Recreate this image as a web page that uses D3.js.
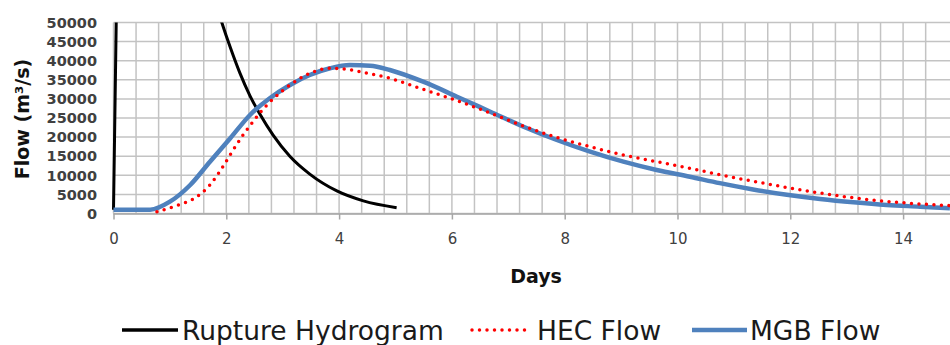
<!DOCTYPE html>
<html>
<head>
<meta charset="utf-8">
<script src="https://cdn.jsdelivr.net/npm/d3@7"></script>
<style>
  body { margin: 0; background: #fff; }
  svg { display: block; font-family: "DejaVu Sans", sans-serif; }
</style>
</head>
<body>
<svg id="chart"></svg>
<script>
// values (days, m3/s)
const ruptureDays = [0, 0.05, 0.1, 0.5, 1.0, 1.5, 1.92, 2.07, 2.24, 2.42, 2.6, 2.83, 3.13, 3.48, 3.96, 4.43, 5.02];
const ruptureFlow = [1000, 52000, 120000, 150000, 110000, 72000, 50000, 43500, 36800, 30800, 25900, 20500, 14900, 10300, 5900, 3300, 1520];

const hecDays = [0.77, 1.12, 1.48, 1.71, 1.95, 2.12, 2.3, 2.42, 2.6, 2.83, 3.13, 3.48, 3.84, 4.13, 4.43, 4.9, 5.49, 6.09, 6.68, 7.27, 7.86, 8.45, 9.04, 9.63, 10.22, 10.75, 11.34, 11.94, 12.53, 13.12, 13.71, 14.3, 14.83];
const hecFlow = [470, 2040, 4400, 7460, 12500, 16600, 20600, 23000, 26400, 30000, 33640, 36700, 38010, 37750, 36960, 35400, 32510, 29530, 26300, 22900, 19900, 17490, 15320, 13560, 11830, 10150, 8450, 6800, 5350, 4100, 3150, 2500, 2050];

const mgbDays = [0, 0.65, 1.0, 1.36, 1.71, 2.07, 2.42, 2.77, 3.13, 3.48, 3.84, 4.19, 4.55, 4.9, 5.49, 6.09, 6.68, 7.27, 7.86, 8.45, 9.04, 9.63, 10.22, 10.75, 11.34, 11.94, 12.53, 13.12, 13.71, 14.3, 14.83];
const mgbFlow = [1000, 1000, 3090, 7460, 13560, 19690, 25790, 30160, 33640, 36260, 38010, 38880, 38700, 37570, 34500, 30580, 26650, 22720, 19240, 16180, 13560, 11390, 9630, 7950, 6300, 4900, 3800, 2930, 2230, 1780, 1360];

const xTicks = [0, 2, 4, 6, 8, 10, 12, 14];
const yTicks = [0, 5000, 10000, 15000, 20000, 25000, 30000, 35000, 40000, 45000, 50000];
const seriesNames = ["Rupture Hydrogram", "HEC Flow", "MGB Flow"];

const width = 950, height = 345;
const plotLeft = 113.5, plotTop = 22.5, plotBottom = 213.5;

const svg = d3.select('#chart')
    .attr('width', width)
    .attr('height', height);

const x = d3.scaleLinear().domain([0, 15]).range([plotLeft, plotLeft + 56.4 * 15]);
const y = d3.scaleLinear().domain([0, 50000]).range([plotBottom, plotTop]);

// grid
const grid = svg.append('g').attr('stroke', '#c3c3c3').attr('stroke-width', 1.5);
grid.selectAll('.h').data(yTicks).join('line')
    .attr('x1', plotLeft).attr('x2', width)
    .attr('y1', d => y(d)).attr('y2', d => y(d));
grid.selectAll('.v').data(d3.range(0, 37).map(i => i * 0.4)).join('line')
    .attr('x1', d => x(d)).attr('x2', d => x(d))
    .attr('y1', plotTop).attr('y2', plotBottom);

// x axis
const xAxis = d3.axisBottom(x).tickValues(xTicks).tickSize(6).tickPadding(14).tickFormat(d3.format('d'));
const gx = svg.append('g')
    .attr('transform', `translate(0, ${plotBottom})`)
    .call(xAxis);
gx.select('.domain').attr('stroke', '#a6a6a6').attr('stroke-width', 1.5).attr('d', `M${plotLeft},0.5H${width}`);
gx.selectAll('.tick line').attr('stroke', '#a6a6a6').attr('stroke-width', 1.5);
gx.selectAll('.tick text')
    .attr('fill', '#404040')
    .style('font-size', '15px')
    .style('font-family', '"DejaVu Sans", sans-serif');

// y axis labels
svg.append('g').selectAll('text').data(yTicks).join('text')
    .attr('x', 97)
    .attr('y', d => y(d))
    .attr('dy', '0.36em')
    .attr('text-anchor', 'end')
    .attr('fill', '#404040')
    .style('font-size', '14.5px')
    .style('font-weight', 'bold')
    .text(d => d);

// axis titles
svg.append('text')
    .attr('transform', 'translate(29, 119) rotate(-90)')
    .attr('text-anchor', 'middle')
    .style('font-size', '19px')
    .style('font-weight', 'bold')
    .attr('fill', '#111')
    .text('Flow (m³/s)');

svg.append('text')
    .attr('x', 536).attr('y', 283)
    .attr('text-anchor', 'middle')
    .style('font-size', '19px')
    .style('font-weight', 'bold')
    .attr('fill', '#111')
    .text('Days');

// lines
svg.append('clipPath').attr('id', 'plot')
  .append('rect').attr('x', plotLeft - 3).attr('y', plotTop).attr('width', width - plotLeft + 3).attr('height', plotBottom - plotTop + 3);

const line = d3.line().x(d => x(d[0])).y(d => y(d[1])).curve(d3.curveMonotoneX);
const zip = (a, b) => a.map((v, i) => [v, b[i]]);

const plot = svg.append('g').attr('clip-path', 'url(#plot)');
plot.append('path')
    .attr('d', line(zip(ruptureDays, ruptureFlow)))
    .attr('fill', 'none').attr('stroke', '#000').attr('stroke-width', 3);
plot.append('path')
    .attr('d', line(zip(mgbDays, mgbFlow)))
    .attr('fill', 'none').attr('stroke', '#4f81bd').attr('stroke-width', 4.5);
plot.append('path')
    .attr('d', line(zip(hecDays, hecFlow)))
    .attr('fill', 'none').attr('stroke', '#ff0000').attr('stroke-width', 3.5)
    .attr('stroke-linecap', 'round').attr('stroke-dasharray', '0 7.5');

// legend
const legend = [
  { name: seriesNames[0], x1: 122, x2: 178, tx: 182, color: '#000', w: 3.5, dash: null },
  { name: seriesNames[1], x1: 472, x2: 527, tx: 537, color: '#ff0000', w: 3.5, dash: '0 7.5' },
  { name: seriesNames[2], x1: 692, x2: 747, tx: 750, color: '#4f81bd', w: 4.5, dash: null }
];
const lg = svg.append('g').selectAll('g').data(legend).join('g');
lg.append('line')
    .attr('x1', d => d.x1).attr('x2', d => d.x2)
    .attr('y1', 330).attr('y2', 330)
    .attr('stroke', d => d.color).attr('stroke-width', d => d.w)
    .attr('stroke-linecap', d => d.dash ? 'round' : 'butt')
    .attr('stroke-dasharray', d => d.dash);
lg.append('text')
    .attr('x', d => d.tx).attr('y', 340)
    .style('font-size', '26.5px')
    .attr('fill', '#1a1a1a')
    .text(d => d.name);
</script>
</body>
</html>
